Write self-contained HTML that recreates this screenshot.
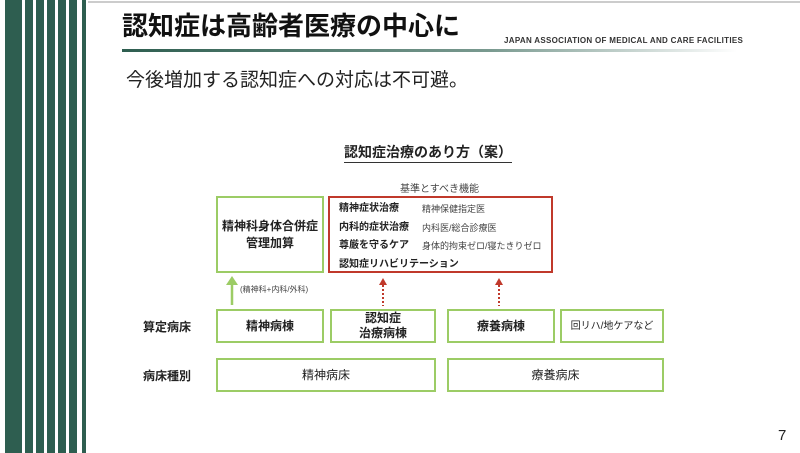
<!DOCTYPE html>
<html><head><meta charset="utf-8"><style>
body{margin:0;width:800px;height:453px;background:#fff;position:relative;overflow:hidden;font-family:"Liberation Sans","Noto Sans CJK JP",sans-serif;color:#222}
.a{position:absolute;white-space:nowrap}
.s{position:absolute;top:0;height:453px;background:#2e5e50}
.b{position:absolute;box-sizing:border-box;border:2px solid #9ccc65;display:flex;align-items:center;justify-content:center;text-align:center;font-weight:bold;font-size:12px;line-height:15px}
.r{border-color:#c0392b}
</style></head><body>
<div class="s" style="left:5px;width:17px"></div>
<div class="s" style="left:25px;width:8px"></div>
<div class="s" style="left:36px;width:8px"></div>
<div class="s" style="left:47px;width:8px"></div>
<div class="s" style="left:58px;width:8px"></div>
<div class="s" style="left:69px;width:8px"></div>
<div class="s" style="left:82px;width:4px"></div>
<div class="a" style="left:88px;top:1px;width:712px;height:2px;background:#ccc"></div>
<div class="a" style="left:122px;top:11px;font-size:26px;font-weight:bold;line-height:30px;color:#111">認知症は高齢者医療の中心に</div>
<div class="a" style="left:122px;top:49px;width:615px;height:3px;background:linear-gradient(to right,#2e5e50,#7a9a90 60%,#fff)"></div>
<div class="a" style="left:504px;top:36px;font-size:8px;font-weight:bold;letter-spacing:0.3px;color:#333">JAPAN ASSOCIATION OF MEDICAL AND CARE FACILITIES</div>
<div class="a" style="left:126px;top:69px;font-size:19px;letter-spacing:0px;line-height:24px;color:#222">今後増加する認知症への対応は不可避。</div>
<div class="a" style="left:344px;top:143px;font-size:14px;font-weight:bold;border-bottom:1px solid #333;line-height:18px;padding-bottom:1px">認知症治療のあり方（案）</div>
<div class="a" style="left:400px;top:180px;font-size:10px;color:#444">基準とすべき機能</div>
<div class="b" style="left:216px;top:196px;width:108px;height:77px;font-size:12px;line-height:17px">精神科身体合併症<br>管理加算</div>
<div class="b r" style="left:328px;top:196px;width:225px;height:77px"></div>
<div class="a" style="left:339px;top:200px;font-size:10px;font-weight:bold;line-height:18.7px">精神症状治療<br>内科的症状治療<br>尊厳を守るケア<br>認知症リハビリテーション</div>
<div class="a" style="left:422px;top:200px;font-size:9px;line-height:18.7px;color:#444">精神保健指定医<br>内科医/総合診療医<br>身体的拘束ゼロ/寝たきりゼロ</div>
<svg class="a" style="left:0;top:0" width="800" height="453">
<line x1="232" y1="285" x2="232" y2="305" stroke="#9ccc65" stroke-width="2.5"/>
<polygon points="226,285 238,285 232,276" fill="#9ccc65"/>
<line x1="383" y1="285" x2="383" y2="306" stroke="#c0392b" stroke-width="2" stroke-dasharray="2,2"/>
<polygon points="379,285 387,285 383,278" fill="#c0392b"/>
<line x1="499" y1="285" x2="499" y2="306" stroke="#c0392b" stroke-width="2" stroke-dasharray="2,2"/>
<polygon points="495,285 503,285 499,278" fill="#c0392b"/>
</svg>
<div class="a" style="left:240px;top:284px;font-size:8px;color:#444">(精神科+内科/外科)</div>
<div class="a" style="left:143px;top:318px;font-size:12px;font-weight:bold">算定病床</div>
<div class="a" style="left:143px;top:367px;font-size:12px;font-weight:bold">病床種別</div>
<div class="b" style="left:216px;top:309px;width:108px;height:34px">精神病棟</div>
<div class="b" style="left:330px;top:309px;width:106px;height:34px;line-height:15px">認知症<br>治療病棟</div>
<div class="b" style="left:447px;top:309px;width:108px;height:34px">療養病棟</div>
<div class="b" style="left:560px;top:309px;width:104px;height:34px;font-size:10px;font-weight:normal;color:#222">回リハ/地ケアなど</div>
<div class="b" style="left:216px;top:358px;width:220px;height:34px;font-weight:normal">精神病床</div>
<div class="b" style="left:447px;top:358px;width:217px;height:34px;font-weight:normal">療養病床</div>
<div class="a" style="left:778px;top:427px;font-size:15px">7</div>
</body></html>
